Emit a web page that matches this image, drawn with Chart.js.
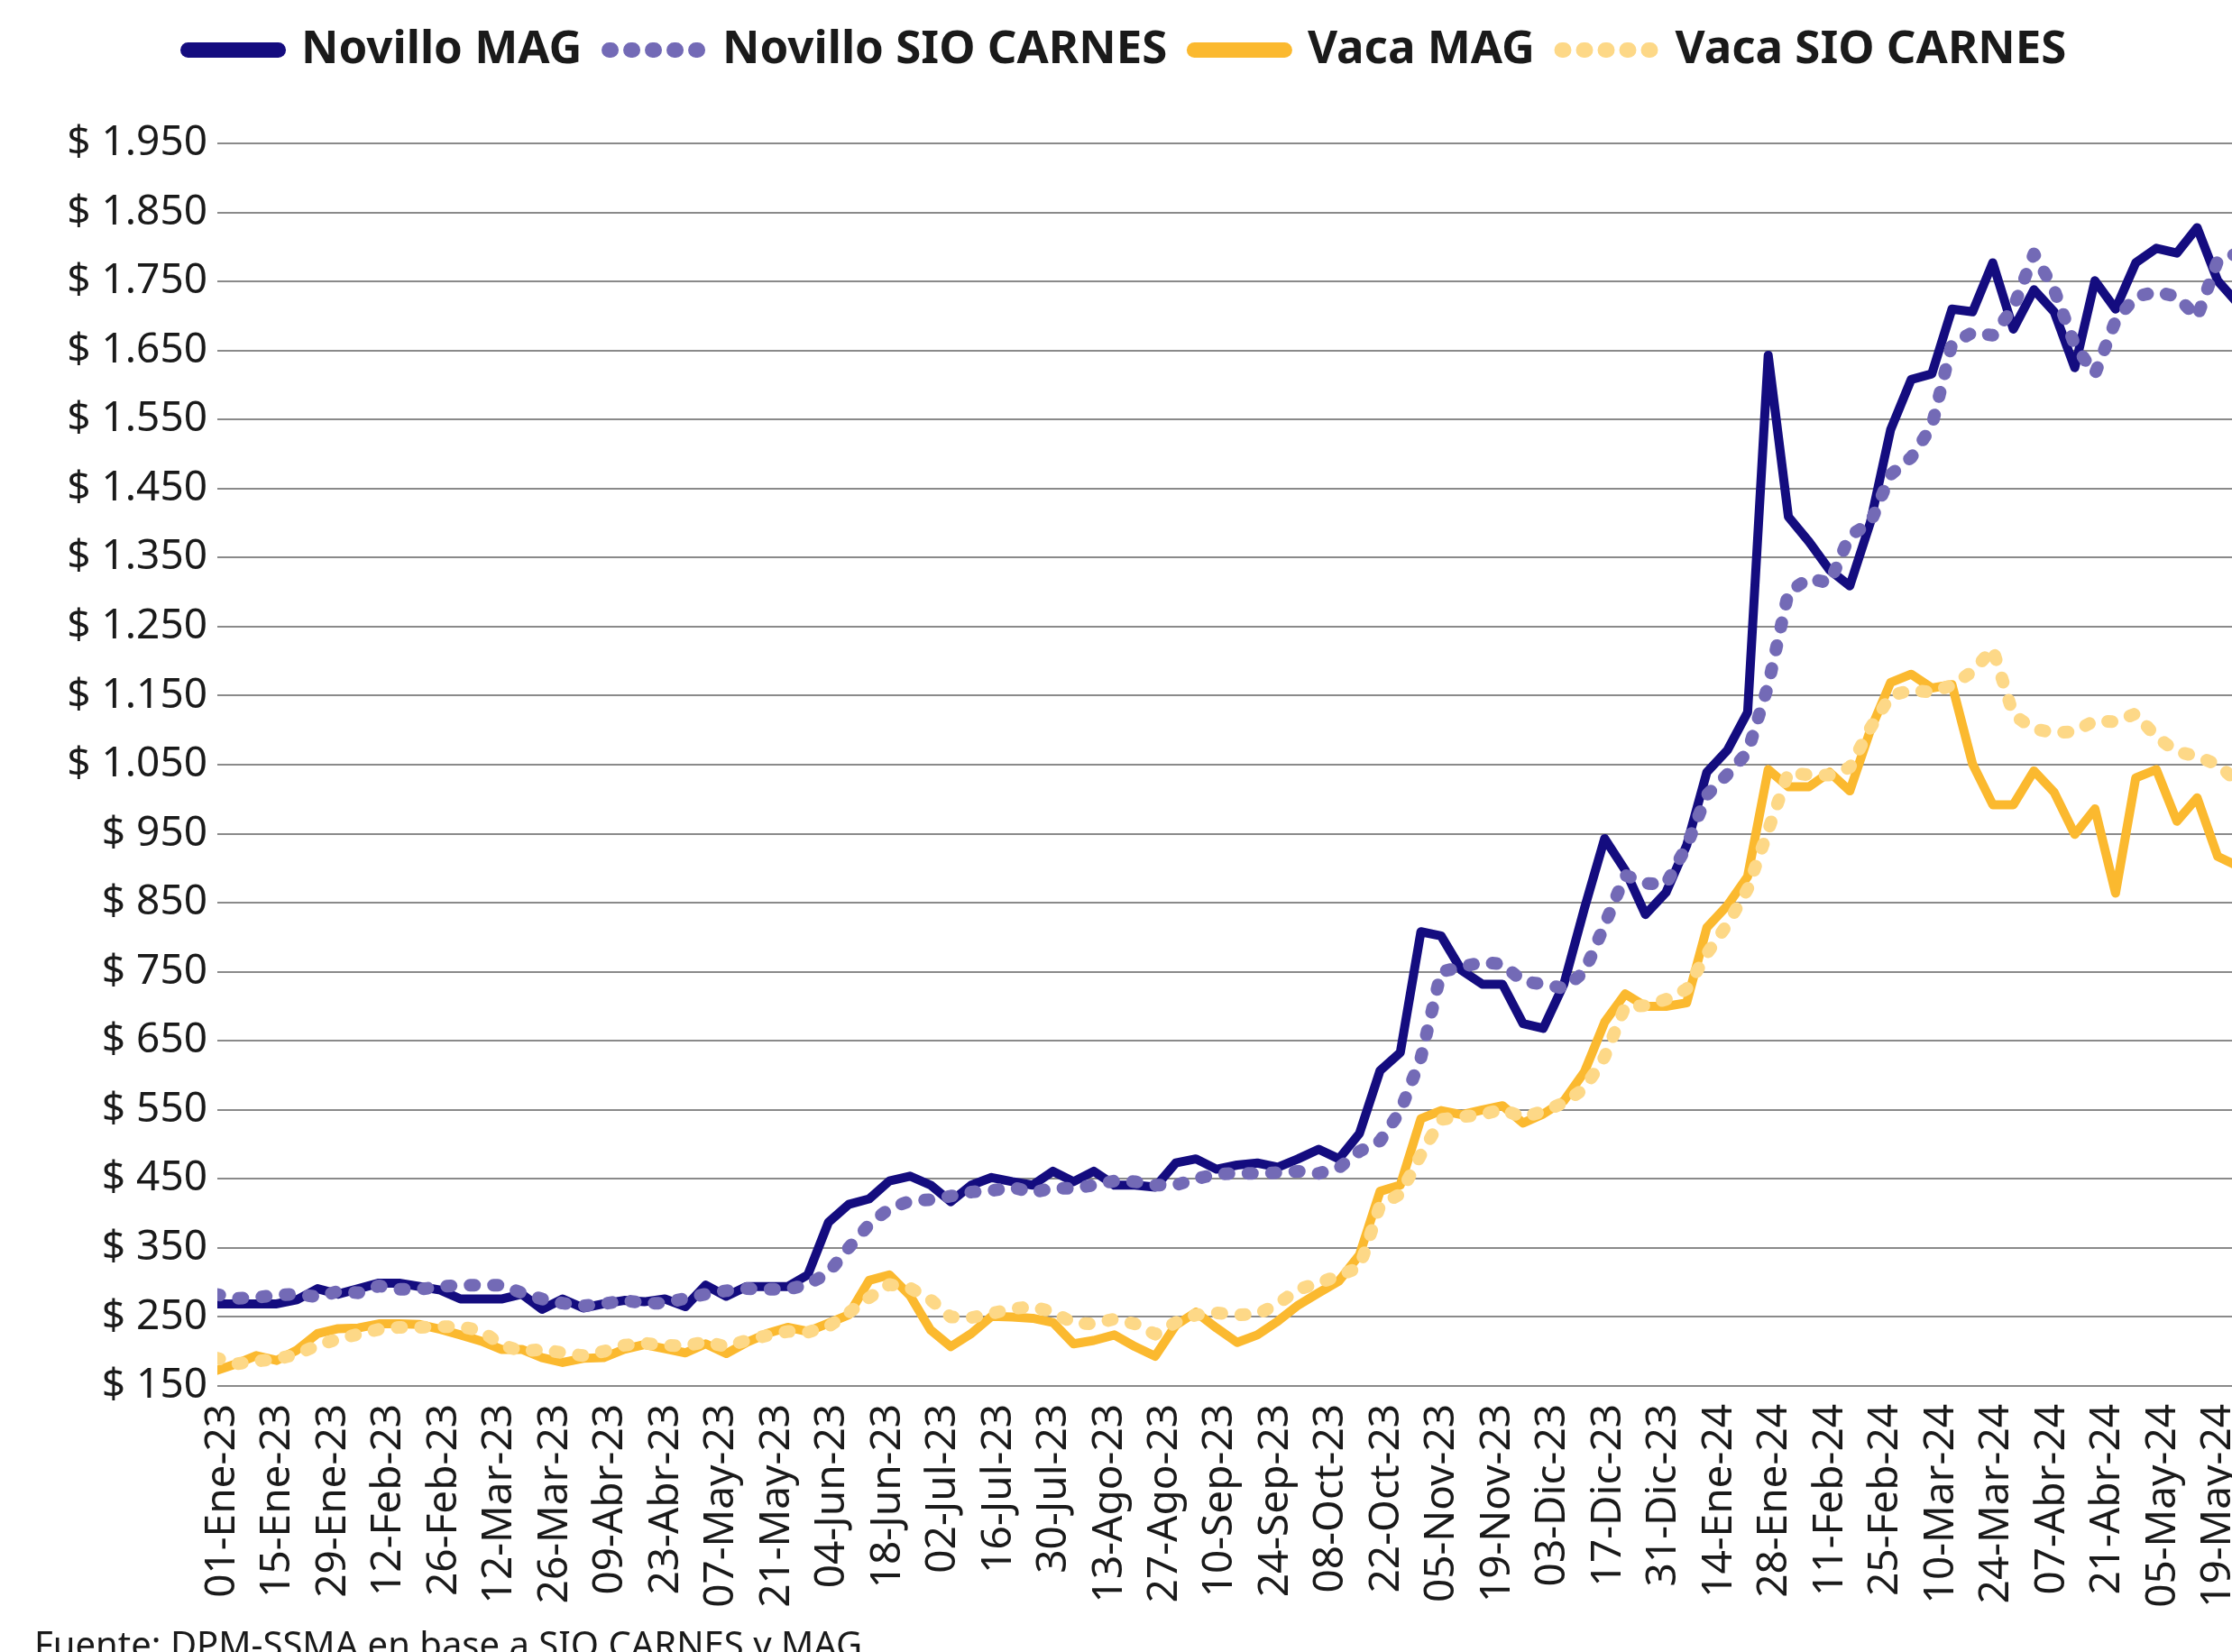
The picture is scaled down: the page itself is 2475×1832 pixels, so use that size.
<!DOCTYPE html>
<html>
<head>
<meta charset="utf-8">
<script src="https://cdn.jsdelivr.net/npm/chart.js@4/dist/chart.umd.min.js"></script>
<style>
    html, body { margin: 0; padding: 0; background: #ffffff; overflow: hidden; }
    #wrap { position: relative; width: 2500px; height: 1832px; }
    #fuente {
        position: absolute; left: 38px; top: 1803px;
        font-family: "Noto Sans", sans-serif; font-size: 40px; line-height: 1;
        color: #1a1a1a; white-space: nowrap;
    }
</style>
</head>
<body>
<div id="wrap">
    <canvas id="grafico" width="2500" height="1832"></canvas>
    <div id="fuente">Fuente: DPM-SSMA en base a SIO CARNES y MAG</div>
</div>
<script>
    // posicion de cada punto, en dias desde el 01-Ene-23
    const dias = [
        -1.8, 3.4, 8.5, 13.7, 18.8, 24.0, 29.2, 34.3, 39.5, 44.6,
        49.8, 55.0, 60.1, 65.3, 70.4, 75.6, 80.7, 85.9, 91.1, 96.2,
        101.4, 106.5, 111.7, 116.9, 122.0, 127.2, 132.3, 137.5, 142.7, 147.8,
        153.0, 158.1, 163.3, 168.4, 173.6, 178.8, 183.9, 189.1, 194.2, 199.4,
        204.6, 209.7, 214.9, 220.0, 225.2, 230.4, 235.5, 240.7, 245.8, 251.0,
        256.2, 261.3, 266.5, 271.6, 276.8, 281.9, 287.1, 292.3, 297.4, 302.6,
        307.7, 312.9, 318.1, 323.2, 328.4, 333.5, 338.7, 343.9, 349.0, 354.2,
        359.3, 364.5, 369.7, 374.8, 380.0, 385.1, 390.3, 395.4, 400.6, 405.8,
        410.9, 416.1, 421.2, 426.4, 431.6, 436.7, 441.9, 447.0, 452.2, 457.4,
        462.5, 467.7, 472.8, 478.0, 483.1, 488.3, 493.5, 498.6, 503.8, 508.9
    ];

    const novilloMAG = [
        269, 269, 269, 269, 275, 291, 283, 291, 299, 299,
        294, 289, 276, 276, 276, 283, 261, 276, 263, 269,
        274, 272, 276, 265, 296, 280, 294, 294, 294, 311,
        387, 413, 421, 447, 454, 441, 417, 441, 452, 446,
        441, 461, 446, 461, 441, 441, 438, 473, 479, 464,
        470, 473, 467, 479, 493, 479, 516, 607, 633, 808,
        802, 752, 732, 732, 675, 668, 732, 842, 943, 897,
        833, 865, 933, 1039, 1071, 1126, 1643, 1409, 1373, 1332,
        1309, 1401, 1535, 1608, 1616, 1710, 1706, 1777, 1681, 1738,
        1706, 1625, 1751, 1710, 1777, 1798, 1791, 1828, 1751, 1718
    ];

    const novilloSIO = [
        283, 277, 278, 282, 283, 279, 287, 285, 295, 290,
        290, 294, 296, 296, 296, 285, 276, 270, 266, 269,
        274, 270, 270, 277, 283, 288, 291, 290, 290, 297,
        314, 350, 384, 407, 418, 420, 425, 431, 433, 438,
        430, 437, 436, 441, 447, 446, 441, 441, 450, 457,
        458, 458, 459, 461, 458, 466, 490, 505, 548, 625,
        750, 757, 764, 761, 736, 732, 726, 750, 818, 890,
        878, 877, 932, 1006, 1036, 1068, 1165, 1300, 1320, 1313,
        1382, 1400, 1470, 1495, 1540, 1660, 1676, 1672, 1712, 1790,
        1738, 1658, 1616, 1693, 1728, 1735, 1728, 1698, 1780, 1791
    ];

    const vacaMAG = [
        172, 182, 194, 187, 202, 226, 233, 234, 240, 240,
        239, 232, 224, 215, 203, 203, 191, 184, 190, 191,
        203, 210, 204, 198, 211, 197, 213, 226, 235, 229,
        241, 253, 303, 311, 281, 231, 207, 226, 251, 250,
        248, 242, 211, 216, 224, 207, 193, 238, 257, 234,
        213, 224, 244, 267, 285, 302, 340, 432, 441, 537,
        549, 543, 550, 556, 531, 544, 563, 605, 677, 718,
        700, 700, 705, 814, 846, 888, 1043, 1018, 1018, 1039,
        1012, 1100, 1169, 1181, 1161, 1166, 1051, 992, 992, 1041,
        1010, 949, 986, 864, 1031, 1043, 968, 1002, 917, 903
    ];

    const vacaSIO = [
        191, 182, 186, 189, 196, 209, 218, 225, 232, 235,
        235, 236, 236, 230, 210, 200, 203, 198, 194, 200,
        209, 212, 209, 208, 214, 207, 216, 223, 229, 228,
        236, 256, 278, 297, 292, 275, 250, 249, 255, 262,
        265, 257, 241, 240, 247, 240, 225, 242, 253, 256,
        253, 254, 269, 290, 299, 310, 322, 412, 428, 485,
        536, 540, 543, 551, 539, 548, 560, 581, 627, 700,
        701, 710, 725, 776, 819, 870, 955, 1039, 1035, 1035,
        1046, 1103, 1150, 1158, 1155, 1165, 1185, 1218, 1122, 1102,
        1096, 1098, 1114, 1112, 1124, 1090, 1069, 1062, 1050, 1025
    ];

    const etiquetas = [
        "01-Ene-23", "15-Ene-23", "29-Ene-23", "12-Feb-23", "26-Feb-23", "12-Mar-23",
        "26-Mar-23", "09-Abr-23", "23-Abr-23", "07-May-23", "21-May-23", "04-Jun-23",
        "18-Jun-23", "02-Jul-23", "16-Jul-23", "30-Jul-23", "13-Ago-23", "27-Ago-23",
        "10-Sep-23", "24-Sep-23", "08-Oct-23", "22-Oct-23", "05-Nov-23", "19-Nov-23",
        "03-Dic-23", "17-Dic-23", "31-Dic-23", "14-Ene-24", "28-Ene-24", "11-Feb-24",
        "25-Feb-24", "10-Mar-24", "24-Mar-24", "07-Abr-24", "21-Abr-24", "05-May-24",
        "19-May-24"
    ];
    // una etiqueta cada 14 dias
    const diasEtiqueta = etiquetas.map((e, i) => i * 14);

    const fuente = "Noto Sans";
    const colorTexto = "#1a1a1a";

    function puntos(serie) {
        return serie.map((v, i) => ({ x: dias[i], y: v }));
    }

    function pesos(v) {
        if (v >= 1000) {
            return "$ " + Math.floor(v / 1000) + "." + String(v % 1000).padStart(3, "0");
        }
        return "$ " + v;
    }

    const series = [
        { label: "Novillo MAG", data: puntos(novilloMAG), color: "#140c7f", width: 10, dash: [], order: 4 },
        { label: "Novillo SIO CARNES", data: puntos(novilloSIO), color: "#736ab6", width: 14, dash: [5, 21], order: 3 },
        { label: "Vaca MAG", data: puntos(vacaMAG), color: "#fbb92f", width: 10, dash: [], order: 2 },
        { label: "Vaca SIO CARNES", data: puntos(vacaSIO), color: "#fdd887", width: 14, dash: [5, 21], order: 1 }
    ];

    // alto fijo de la leyenda, el area del grafico empieza debajo
    const ajusteLeyenda = {
        id: "ajusteLeyenda",
        beforeInit(chart) {
            const fit = chart.legend.fit;
            chart.legend.fit = function() {
                fit.bind(chart.legend)();
                this.height = 159;
            };
        }
    };

    new Chart(document.getElementById("grafico"), {
        type: "line",
        data: {
            datasets: series.map((s) => {
                return {
                    label: s.label,
                    data: s.data,
                    borderColor: s.color,
                    backgroundColor: s.color,
                    borderWidth: s.width,
                    borderDash: s.dash,
                    borderCapStyle: "round",
                    borderJoinStyle: "round",
                    pointRadius: 0,
                    pointHoverRadius: 0,
                    tension: 0,
                    fill: false,
                    order: s.order
                };
            })
        },
        options: {
            responsive: false,
            animation: false,
            events: [],
            layout: { padding: 0 },
            plugins: {
                tooltip: { enabled: false },
                legend: {
                    position: "top",
                    labels: {
                        usePointStyle: true,
                        pointStyleWidth: 100,
                        boxHeight: 16,
                        padding: 30,
                        color: colorTexto,
                        font: { family: fuente, size: 51, weight: "bold" },
                        generateLabels(chart) {
                            return chart.data.datasets.map((ds, i) => {
                                const punteada = ds.borderDash.length > 0;
                                return {
                                    text: ds.label,
                                    datasetIndex: i,
                                    pointStyle: "line",
                                    strokeStyle: ds.borderColor,
                                    fillStyle: ds.borderColor,
                                    lineWidth: punteada ? 17 : 17,
                                    lineDash: punteada ? [2, 22] : [],
                                    lineCap: "round",
                                    fontColor: colorTexto,
                                    hidden: false
                                };
                            });
                        }
                    }
                }
            },
            scales: {
                x: {
                    type: "linear",
                    min: -1.3,
                    max: 513.1,
                    grid: { display: false, drawTicks: false },
                    border: { display: false },
                    afterBuildTicks(scale) {
                        scale.ticks = diasEtiqueta.map((d) => ({ value: d }));
                    },
                    afterFit(scale) {
                        scale.height = 1832 - 1537;
                        scale.paddingLeft = 0;
                        scale.paddingRight = 0;
                    },
                    ticks: {
                        autoSkip: false,
                        minRotation: 90,
                        maxRotation: 90,
                        padding: 20,
                        color: colorTexto,
                        font: { family: fuente, size: 46 },
                        callback(value) {
                            const i = diasEtiqueta.indexOf(value);
                            return i >= 0 ? etiquetas[i] : "";
                        }
                    }
                },
                y: {
                    min: 150,
                    max: 1950,
                    grid: { color: "#8a8a8a", lineWidth: 2, drawTicks: false },
                    border: { display: false },
                    afterFit(scale) {
                        scale.width = 241;
                    },
                    ticks: {
                        stepSize: 100,
                        padding: 11,
                        color: colorTexto,
                        font: { family: fuente, size: 46 },
                        callback: (value) => pesos(value)
                    }
                }
            }
        },
        plugins: [ajusteLeyenda]
    });
</script>
</body>
</html>
